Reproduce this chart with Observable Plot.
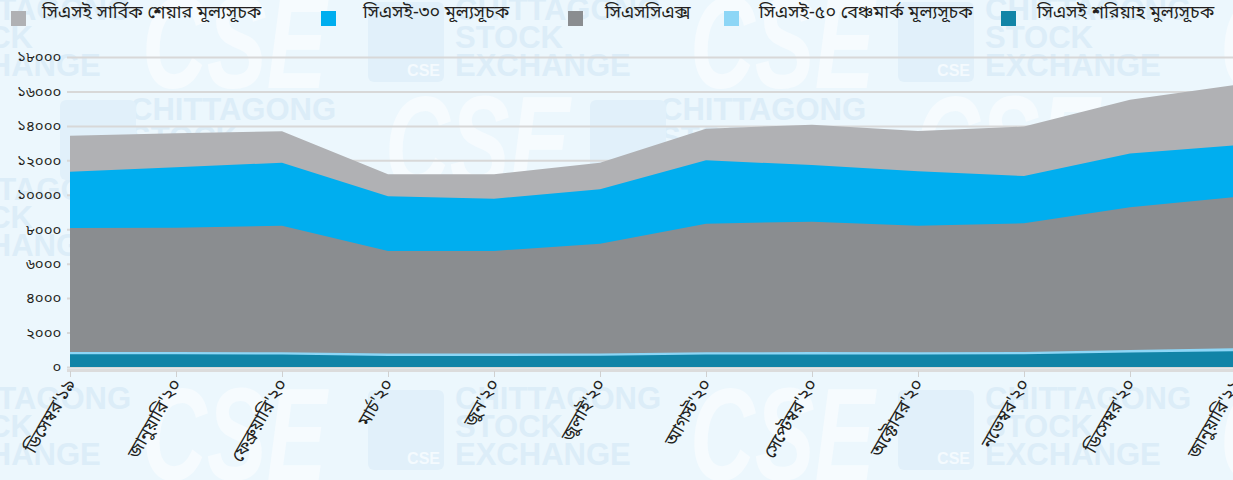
<!DOCTYPE html>
<html>
<head>
<meta charset="utf-8">
<script src="https://cdn.jsdelivr.net/npm/d3@7"></script>
<script src="https://cdn.jsdelivr.net/npm/@observablehq/plot@0.6"></script>
<style>
  html, body { margin: 0; padding: 0; background: #ecf7fd; overflow: hidden; }
  #wrap { position: relative; width: 1233px; height: 480px; overflow: hidden; font-family: "Noto Sans Bengali", "Noto Sans", sans-serif; }
  #wm { position: absolute; left: 0; top: 0; width: 1233px; height: 480px; pointer-events: none; }
  #chart { position: absolute; left: 0; top: 0; }
  #chart svg { background: transparent; overflow: visible; }
  .sw { position: absolute; top: 11px; width: 15px; height: 15px; }
  .lt { position: absolute; top: 1px; font-size: 18px; color: #231f20; white-space: nowrap; }
  .blk { position: absolute; font-family: "Liberation Sans", Arial, sans-serif; font-weight: bold; font-size: 31px; line-height: 28px; color: #dcedf8; white-space: pre; }
  .big { position: absolute; font-family: "Liberation Sans", Arial, sans-serif; font-weight: bold; font-style: italic; font-size: 132px; line-height: 110px; color: #f6fbfe; transform-origin: left top; transform: scaleX(0.68); }
  .box { position: absolute; width: 76px; height: 80px; background: #e1f0fa; border-radius: 6px; }
  .box span { position: absolute; right: 4px; bottom: 2px; font-family: "Liberation Sans", Arial, sans-serif; font-weight: bold; font-size: 16px; color: #f4fafe; }
</style>
</head>
<body>
<div id="wrap">
  <div id="wm"></div>
  <div id="chart"></div>
  <div id="legend"></div>
</div>
<script>
// ---- data ----
const months = ["ডিসেম্বর'১৯","জানুয়ারি'২০","ফেব্রুয়ারি'২০","মার্চ'২০","জুন'২০","জুলাই'২০","আগস্ট'২০","সেপ্টেম্বর'২০","অক্টোবর'২০","নভেম্বর'২০","ডিসেম্বর'২০","জানুয়ারি'২১"];
const seriesNames = ["সিএসই সার্বিক শেয়ার মূল্যসূচক","সিএসই-৩০ মূল্যসূচক","সিএসসিএক্স","সিএসই-৫০ বেঞ্চমার্ক মূল্যসূচক","সিএসই  শরিয়াহ মুল্যসূচক"];
const caspi   = [13430,13570,13690,11190,11190,11860,13840,14070,13700,13960,15520,16390];
const cse30   = [11340,11600,11860, 9910, 9770,10320,12000,11730,11360,11090,12390,12870];
const cscx    = [ 8070, 8090, 8200, 6740, 6740, 7160, 8320, 8440, 8200, 8340, 9270, 9870];
const cse50   = [  870,  870,  860,  780,  780,  790,  850,  870,  860,  870,  980, 1090];
const shariah = [  740,  740,  730,  640,  640,  650,  720,  730,  730,  740,  840,  910];
const yTicks = [0,2000,4000,6000,8000,10000,12000,14000,16000,18000];
const yTickLabels = ["০","২০০০","৪০০০","৬০০০","৮০০০","১০০০০","১২০০০","১৪০০০","১৬০০০","১৮০০০"];
const colors = ["#b0b1b4","#00aeef","#8a8d90","#8dd6f6","#1184a7"];
const watermarkWords = ["CHITTAGONG\nSTOCK\nEXCHANGE", "CSE"];

const allSeries = [caspi, cse30, cscx, cse50, shariah];
const rows = allSeries.map((vals, s) => months.map((m, i) => ({month: m, value: vals[i], series: seriesNames[s]})));

// ---- background watermark (decorative) ----
const wm = document.getElementById("wm");
function addBlock(x, y) { const d = document.createElement("div"); d.className = "blk"; d.style.left = x + "px"; d.style.top = y + "px"; d.textContent = watermarkWords[0]; wm.appendChild(d); }
function addBig(x, y) { const d = document.createElement("div"); d.className = "big"; d.style.left = x + "px"; d.style.top = y + "px"; d.textContent = watermarkWords[1]; wm.appendChild(d); }
function addBox(x, y) { const d = document.createElement("div"); d.className = "box"; d.style.left = x + "px"; d.style.top = y + "px"; d.innerHTML = "<span>" + watermarkWords[1] + "</span>"; wm.appendChild(d); }
[[-75, -4], [455, -4], [985, -4], [-75, 385], [455, 385], [985, 385], [130, 96], [660, 96], [-75, 176]].forEach(([x, y]) => addBlock(x, y));
[[142, -12], [690, -12], [1220, -12], [142, 380], [690, 380], [1220, 380], [385, 88], [915, 88]].forEach(([x, y]) => addBig(x, y));
[[368, 2], [898, 2], [368, 390], [898, 390], [60, 100], [590, 100]].forEach(([x, y]) => addBox(x, y));

const plot = Plot.plot({
  width: 1233,
  height: 480,
  marginTop: 0,
  marginLeft: 67,
  marginRight: 0,
  marginBottom: 111,
  style: {background: "transparent", fontFamily: "'Noto Sans Bengali', 'Noto Sans', sans-serif"},
  x: {type: "point", domain: months, range: [67, 1238], padding: 0, label: null},
  y: {domain: [0, 18000], range: [367, 57], label: null},
  marks: [
    Plot.gridY(yTicks, {stroke: "#d8d8d8", strokeOpacity: 1, strokeWidth: 2}),
    ...rows.map((r, s) => Plot.areaY(r, {x: "month", y: "value", fill: colors[s], fillOpacity: 1})),
    Plot.ruleY([0], {stroke: "#dcdcdc", strokeWidth: 3, dy: 3}),
    Plot.axisY(yTicks, {tickSize: 0, tickPadding: 6, tickFormat: (d) => yTickLabels[yTicks.indexOf(d)], fontSize: 15, fill: "#231f20", label: null}),
    Plot.axisX({tickRotate: -60, tickSize: 6, tickPadding: 3, stroke: "#d0d0d0", fontSize: 18, fill: "#231f20", dy: 2, label: null})
  ]
});
document.getElementById("chart").appendChild(plot);

// ---- legend ----
const swatchX = [11, 321, 568, 724, 1001];
const textX = [42, 363, 605, 759, 1037];
const legend = document.getElementById("legend");
seriesNames.forEach((name, i) => {
  const sw = document.createElement("div");
  sw.className = "sw"; sw.style.left = swatchX[i] + "px"; sw.style.background = colors[i];
  legend.appendChild(sw);
  const t = document.createElement("div");
  t.className = "lt"; t.style.left = textX[i] + "px"; t.textContent = name;
  legend.appendChild(t);
});
</script>
</body>
</html>
